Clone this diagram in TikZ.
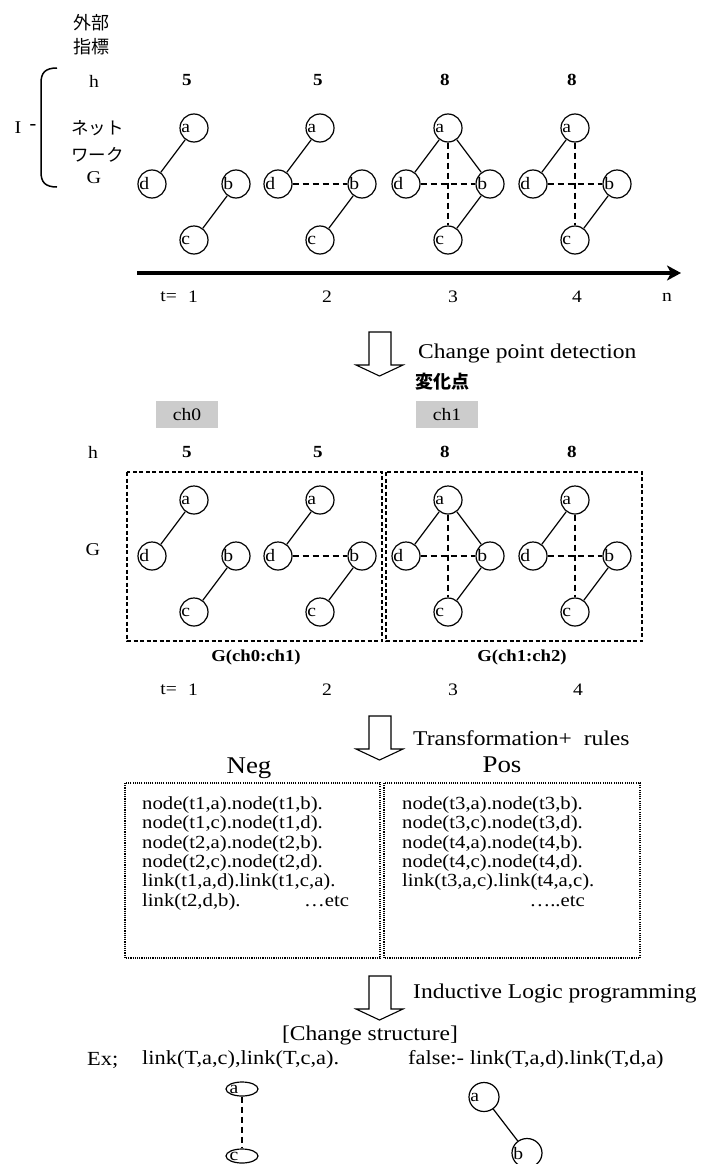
\documentclass[tikz,border=0pt]{standalone}
\usepackage{fontspec}
\setmainfont[FakeStretch=1.12]{Liberation Serif}
\newfontfamily\jp{Noto Sans CJK JP}
\usetikzlibrary{arrows.meta,calc,shapes.geometric}
\newcommand\fsz[1]{\fontsize{#1}{#1}\selectfont}
\definecolor{chgray}{HTML}{CCCCCC}
\newcommand\netg[3]{%
  \node[gn, label={[lbl,name=la#1]west:a}] (a#1) at (#2,#3) {};
  \node[gn, label={[lbl,name=ld#1]west:d}] (d#1) at (#2-42,#3+56) {};
  \node[gn, label={[lbl,name=lb#1]west:b}] (b#1) at (#2+42,#3+56) {};
  \node[gn, label={[lbl,name=lc#1]west:c}] (c#1) at (#2,#3+112) {};
}
\newcommand\blockarrow[2]{%
  \draw[line width=1.1pt, line join=miter] (#1+13,#2) -- (#1+35,#2) -- (#1+35,#2+33) -- (#1+47,#2+33) -- (#1+23.5,#2+44) -- (#1,#2+33) -- (#1+13,#2+33) -- cycle;}
\begin{document}
\begin{tikzpicture}[x=1pt,y=-1pt,
  every node/.style={inner sep=0pt},
  gn/.style={draw, circle, minimum size=28pt, line width=1.2pt},
  lbl/.style={anchor=west, inner sep=1.8pt, font=\fsz{17.5}},
  edge/.style={line width=1.2pt},
  dedge/.style={line width=1.2pt, dash pattern=on 6pt off 4pt},
  dashbox/.style={line width=1.4pt, dash pattern=on 4pt off 2.5pt},
  dotbox/.style={line width=1.1pt, dash pattern=on 1.1pt off 1.1pt},
  num/.style={font=\bfseries\fsz{17}},
  tx/.style={font=\fsz{17.5}},
  code/.style={font=\fsz{18.5}, anchor=base west},
  big/.style={font=\fsz{21}, anchor=west}]
\useasboundingbox (0,0) rectangle (705,1164);

% ---------- top section ----------
\node[font=\jp\fsz{18}] (gaibu) at (91,23) {外部};
\node[font=\jp\fsz{18}] (shihyo) at (91,47) {指標};
\node[tx] (h1) at (94,81) {h};
\node[font=\jp\fsz{17.5}, anchor=west] (net1) at (71,128) {ネット};
\node[font=\jp\fsz{17.5}, anchor=west] (net2) at (71,155) {ワーク};
\node[font=\fsz{18}] (G1) at (94,178) {G};
\node[font=\fsz{18}] (I) at (18,128) {I};
\node[font=\bfseries\fsz{18}] (Idash) at (33,127) {-};
\draw[line width=1.5pt] (57,68) .. controls (45,68) and (41,73) .. (41,83) -- (41,172) .. controls (41,182) and (45,187) .. (57,187);

\node[num] (n1) at (187,80) {5};
\node[num] (n2) at (318,80) {5};
\node[num] (n3) at (445,80) {8};
\node[num] (n4) at (572,80) {8};

\netg{1}{194}{128}
\netg{2}{320}{128}
\netg{3}{448}{128}
\netg{4}{575}{128}
\draw[edge] (a1) -- (d1); \draw[edge] (b1) -- (c1);
\draw[edge] (a2) -- (d2); \draw[edge] (b2) -- (c2); \draw[dedge] (d2) -- (b2);
\draw[edge] (a3) -- (d3); \draw[edge] (a3) -- (b3); \draw[edge] (b3) -- (c3);
\draw[dedge] (d3) -- (b3); \draw[dedge] (a3) -- (c3);
\draw[edge] (a4) -- (d4); \draw[edge] (b4) -- (c4);
\draw[dedge] (d4) -- (b4); \draw[dedge] (a4) -- (c4);

\coordinate (ax0) at (137,273);
\coordinate (ax1) at (681,273);
\draw[line width=3.8pt, -{Stealth[length=14pt,width=15pt,inset=4pt]}] (ax0) -- (ax1);
\node[tx, anchor=east] (tq1) at (177,297) {t=};
\node[tx] (t11) at (193,297) {1};
\node[tx] (t12) at (327,297) {2};
\node[tx] (t13) at (453,297) {3};
\node[tx] (t14) at (577,297) {4};
\node[tx] (tn) at (667,297) {n};

% ---------- change point detection ----------
\blockarrow{356}{332}
\node[big] (cpd) at (418,353) {Change point detection};
\node[font=\jp\bfseries\fsz{18}, anchor=west] (henka) at (415,382) {変化点};
\node[fill=chgray, minimum width=62pt, minimum height=27pt, font=\fsz{17.5}] (ch0) at (187,414.5) {ch0};
\node[fill=chgray, minimum width=62pt, minimum height=27pt, font=\fsz{17.5}] (ch1) at (447,414.5) {ch1};

\node[tx] (h2) at (93,452) {h};
\node[num] (m1) at (187,452) {5};
\node[num] (m2) at (318,452) {5};
\node[num] (m3) at (445,452) {8};
\node[num] (m4) at (572,452) {8};
\node[font=\fsz{18}] (G2) at (93,550) {G};

\draw[dashbox] (127,472) rectangle (382,641);
\draw[dashbox] (386,472) rectangle (642,641);

\netg{5}{194}{500}
\netg{6}{320}{500}
\netg{7}{448}{500}
\netg{8}{575}{500}
\draw[edge] (a5) -- (d5); \draw[edge] (b5) -- (c5);
\draw[edge] (a6) -- (d6); \draw[edge] (b6) -- (c6); \draw[dedge] (d6) -- (b6);
\draw[edge] (a7) -- (d7); \draw[edge] (a7) -- (b7); \draw[edge] (b7) -- (c7);
\draw[dedge] (d7) -- (b7); \draw[dedge] (a7) -- (c7);
\draw[edge] (a8) -- (d8); \draw[edge] (b8) -- (c8);
\draw[dedge] (d8) -- (b8); \draw[dedge] (a8) -- (c8);

\node[font=\bfseries\fsz{16.7}] (gl1) at (256,657) {G(ch0:ch1)};
\node[font=\bfseries\fsz{16.7}] (gl2) at (522,657) {G(ch1:ch2)};

\node[tx, anchor=east] (tq2) at (177,690) {t=};
\node[tx] (t21) at (193,690) {1};
\node[tx] (t22) at (327,690) {2};
\node[tx] (t23) at (453,690) {3};
\node[tx] (t24) at (578,690) {4};

% ---------- transformation ----------
\blockarrow{356}{716}
\node[big] (trf) at (413,738) {Transformation+\hspace{6pt} rules};
\node[font=\fsz{24}] (neg) at (249,768) {Neg};
\node[font=\fsz{24}] (pos) at (502,765) {Pos};
\draw[dotbox] (125,783) rectangle (380,958);
\draw[dotbox] (384,783) rectangle (640,958);

\node[code] (ng1) at (142,809.5) {node(t1,a).node(t1,b).};
\node[code] (ng2) at (142,828.8) {node(t1,c).node(t1,d).};
\node[code] (ng3) at (142,848.1) {node(t2,a).node(t2,b).};
\node[code] (ng4) at (142,867.4) {node(t2,c).node(t2,d).};
\node[code] (ng5) at (142,886.7) {link(t1,a,d).link(t1,c,a).};
\node[code] (ng6) at (142,906.0) {link(t2,d,b).};
\node[code] (ng7) at (304,906.0) {…etc};

\node[code] (ps1) at (402,809.5) {node(t3,a).node(t3,b).};
\node[code] (ps2) at (402,828.8) {node(t3,c).node(t3,d).};
\node[code] (ps3) at (402,848.1) {node(t4,a).node(t4,b).};
\node[code] (ps4) at (402,867.4) {node(t4,c).node(t4,d).};
\node[code] (ps5) at (402,886.7) {link(t3,a,c).link(t4,a,c).};
\node[code, anchor=base east] (ps6) at (585,906.0) {…..etc};

% ---------- ILP ----------
\blockarrow{356}{976}
\node[big] (ilp) at (413,993) {Inductive Logic programming};
\node[font=\fsz{21}] (cs) at (370,1035) {[Change structure]};
\node[font=\fsz{20}, anchor=west] (ex) at (87,1060) {Ex;};
\node[font=\fsz{20}, anchor=west] (ex1) at (142,1060) {link(T,a,c),link(T,c,a).};
\node[font=\fsz{20}, anchor=west] (ex2) at (408,1060) {false:- link(T,a,d).link(T,d,a)};

\node[draw, ellipse, minimum width=32pt, minimum height=14pt, line width=1.2pt,
  label={[lbl,name=lea,inner sep=4pt]west:a}] (ea) at (242,1089) {};
\node[draw, ellipse, minimum width=32pt, minimum height=14pt, line width=1.2pt,
  label={[lbl,name=lec,inner sep=4pt]west:c}] (ec) at (242,1156) {};
\draw[dedge] (ea) -- (ec);

\node[draw, ellipse, minimum width=30pt, minimum height=29pt, line width=1.2pt,
  label={[lbl,name=lfa]west:a}] (fa) at (484,1097) {};
\node[draw, ellipse, minimum width=30pt, minimum height=29pt, line width=1.2pt,
  label={[lbl,name=lfb]west:b}] (fb) at (527,1153) {};
\draw[edge] (fa) -- (fb);
\end{tikzpicture}
\end{document}
